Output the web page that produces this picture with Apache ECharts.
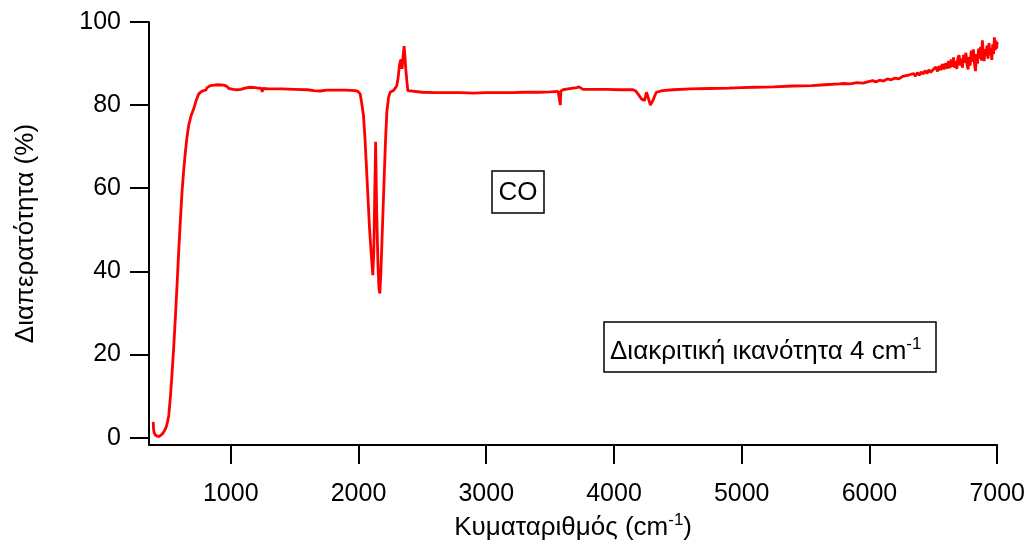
<!DOCTYPE html>
<html><head><meta charset="utf-8">
<script src="https://cdn.jsdelivr.net/npm/echarts@6/dist/echarts.min.js"></script>
<style>html,body{margin:0;padding:0;background:#fff}#c{width:1028px;height:546px}</style>
</head><body><div id="c"></div>
<script>
// wavenumber (cm-1) and transmittance (%)
const wavenumber = [393,396,400,410,425,437,450,465,480,495,505,515,528,541,554,567,580,593,606,619,632,645,658,671,690,710,730,749,768,788,805,815,841,870,900,945,970,985,997,1020,1049,1080,1110,1153,1190,1218,1240,1246,1252,1300,1400,1500,1600,1650,1700,1750,1800,1900,1974,1995,2013,2025,2039,2050,2060,2073,2086,2099,2112,2120,2128,2134,2142,2152,2160,2167,2175,2183,2192,2201,2211,2222,2235,2248,2273,2290,2300,2310,2320,2327,2333,2341,2350,2357,2363,2370,2378,2386,2400,2500,2600,2700,2800,2900,3000,3100,3200,3300,3419,3500,3563,3576,3580,3584,3602,3640,3680,3710,3727,3742,3758,3850,3941,4050,4149,4170,4188,4215,4240,4254,4266,4285,4305,4320,4332,4380,4462,4600,4750,4900,5000,5100,5250,5400,5550,5650,5764,5800,5850,5900,5950,6000,6025,6050,6080,6110,6140,6170,6200,6230,6260,6286,6300,6315,6330,6345,6360,6375,6390,6405,6420,6435,6450,6465,6480,6494,6508,6520,6533,6545,6558,6570,6584,6598,6610,6620,6630,6640,6650,6658,6666,6676,6684,6692,6702,6710,6719,6728,6736,6745,6755,6763,6772,6780,6788,6797,6806,6814,6822,6830,6838,6846,6854,6862,6870,6878,6884,6892,6898,6905,6912,6920,6928,6936,6943,6950,6958,6965,6972,6978,6985,6990,6996,7000];
const transmittance = [3.8,2.0,1.2,0.6,0.3,0.2,0.4,0.9,1.6,2.6,3.8,5.4,10,15.7,22,29.2,37,45.1,52.5,59.3,64.5,68.8,72.4,75.2,77.5,79.1,81.2,82.7,83.2,83.5,83.6,84.2,84.7,84.8,84.9,84.8,84.5,84.0,83.9,83.8,83.7,83.8,84.1,84.3,84.2,84.1,84.0,83.2,84.0,83.9,83.9,83.8,83.7,83.5,83.4,83.6,83.6,83.6,83.5,83.3,82.7,80.5,77.5,72.5,66.5,58.5,50.6,44.5,39.1,45,60,71.2,55,42,36,34.7,39.5,46.6,54.5,62.5,71,78.4,81.8,83.1,83.5,84.2,84.7,86.5,89.4,90.5,91.0,88.7,92,94.2,92,88.7,86,83.5,83.2,83.1,83.0,83.0,83.0,82.9,83.0,83.0,83.0,83.1,83.1,83.2,83.3,83.3,80.0,83.4,83.7,83.9,84.1,84.2,84.4,84.0,83.8,83.8,83.8,83.7,83.7,83.4,82.7,81.5,81.1,83.1,82,80.0,81.1,82.3,83.1,83.5,83.7,83.9,84.0,84.1,84.2,84.3,84.4,84.6,84.7,84.9,85.1,85.2,85.1,85.4,85.3,85.7,85.9,85.6,86.0,85.8,86.3,86.1,86.5,86.3,86.9,87.1,86.7,87.3,86.9,87.6,87.0,87.8,87.2,88.0,87.5,88.3,87.6,88.5,87.9,88.4,88.0,89.2,88.1,89.4,88.4,89.9,88.6,90.1,88.8,90.6,88.9,91.0,89.2,91.5,89.0,90.6,88.7,91.3,92.0,89.5,91.2,89.0,92.1,90.2,92.6,89.9,88.6,91.6,89.5,93.1,90.4,93.4,89.8,88.2,92.3,90.0,93.6,91.2,94.0,90.7,95.6,92.1,90.6,93.5,91.8,94.3,91.2,94.9,92.0,93.7,90.9,94.6,92.3,96.3,93.2,95.5,93.6,95.2];
const xTicks = [1000,2000,3000,4000,5000,6000,7000];
const yTicks = [0,20,40,60,80,100];
const xTitle = 'Κυματαριθμός (cm';
const yTitle = 'Διαπερατότητα (%)';
const note1 = 'CO';
const note2 = 'Διακριτική ικανότητα 4 cm';

const FONT = '"Liberation Sans",Arial,Helvetica,sans-serif';
const chart = echarts.init(document.getElementById('c'), null, {renderer:'canvas'});
const pts = wavenumber.map((w,i)=>[w, transmittance[i]]);
const tickStyle = {show:true, inside:false, length:19, lineStyle:{color:'#000', width:2}};
const lineStyleAx = {show:true, onZero:false, lineStyle:{color:'#000', width:2}};
chart.setOption({
  animation:false,
  grid:{left:149, right:30, top:22, bottom:96, containLabel:false},
  xAxis:{
    type:'value', min:360, max:7000, splitLine:{show:false},
    axisLine:lineStyleAx,
    axisTick:Object.assign({}, tickStyle, {customValues:xTicks}),
    axisLabel:{customValues:xTicks, formatter:v=>String(v), color:'#000', fontFamily:FONT, fontSize:25, margin:37},
    name:'{a|'+xTitle+'}{s|-1}{a|)}', nameLocation:'middle', nameGap:66,
    nameTextStyle:{rich:{a:{fontFamily:FONT, fontSize:26, color:'#000', verticalAlign:'bottom'}, s:{fontFamily:FONT, fontSize:17, color:'#000', verticalAlign:'bottom', padding:[0,0,12,0]}}}
  },
  yAxis:{
    type:'value', min:-1.8, max:100, splitLine:{show:false},
    axisLine:lineStyleAx,
    axisTick:Object.assign({}, tickStyle, {customValues:yTicks}),
    axisLabel:{customValues:yTicks, formatter:v=>String(v), color:'#000', fontFamily:FONT, fontSize:25, margin:28},
    name:yTitle, nameLocation:'middle', nameGap:110, nameRotate:90,
    nameTextStyle:{fontFamily:FONT, fontSize:26, color:'#000'}
  },
  series:[{type:'line', data:pts, showSymbol:false, symbol:'none', lineStyle:{color:'#ff0000', width:2.8}, itemStyle:{color:'#ff0000'}}],
  graphic:[
    {type:'rect', x:492, y:171, shape:{width:52, height:42}, style:{fill:'#fff', stroke:'#000', lineWidth:1.5}},
    {type:'text', x:518, y:193, style:{text:note1, font:'26px '+FONT, fill:'#000', align:'center', verticalAlign:'middle'}},
    {type:'rect', x:604, y:322, shape:{width:332, height:50}, style:{fill:'#fff', stroke:'#000', lineWidth:1.5}},
    {type:'text', x:610, y:350, style:{text:'{a|'+note2+'}{s|-1}', verticalAlign:'middle', rich:{a:{font:'26px '+FONT, fill:'#000', verticalAlign:'bottom'}, s:{font:'17px '+FONT, fill:'#000', verticalAlign:'bottom', padding:[0,0,12,0]}}}}
  ]
});
</script></body></html>
